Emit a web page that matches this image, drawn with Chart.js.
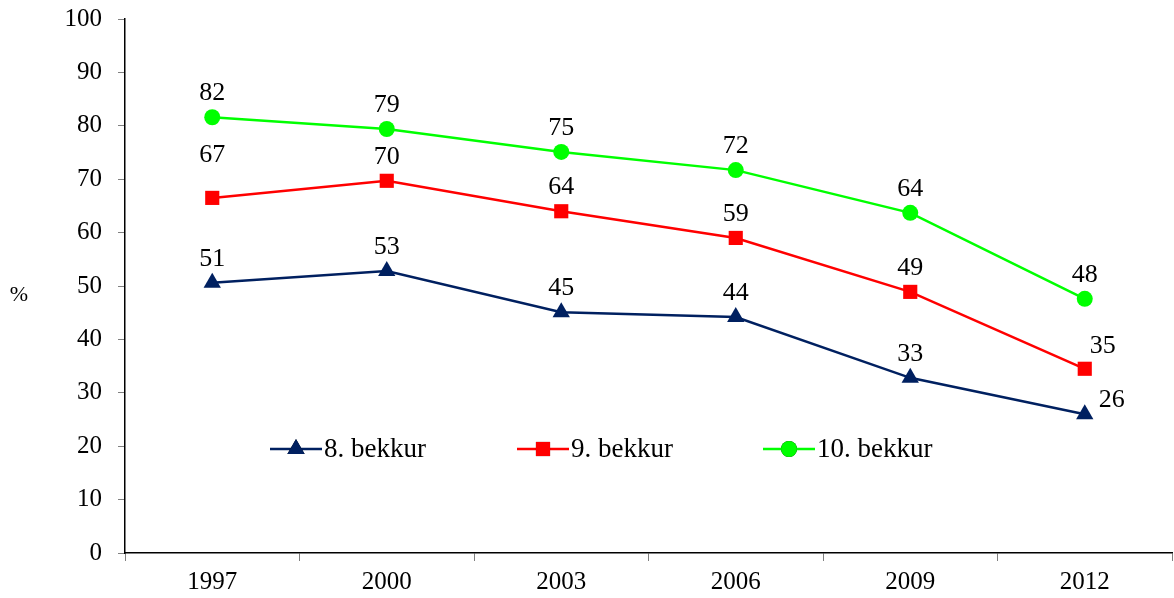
<!DOCTYPE html>
<html>
<head>
<meta charset="utf-8">
<script src="https://cdn.jsdelivr.net/npm/chart.js@4/dist/chart.umd.min.js"></script>
<style>
  html, body { margin: 0; padding: 0; background: #fff; }
  #wrap { width: 1174px; height: 598px; }
</style>
</head>
<body>
<div id="wrap"><canvas id="chart" width="1174" height="598"></canvas></div>
<script>
// values
var years = ['1997', '2000', '2003', '2006', '2009', '2012'];
var grade8 = [50.6, 52.8, 45.1, 44.2, 32.8, 26.0];
var grade9 = [66.5, 69.7, 64.0, 59.0, 48.9, 34.5];
var grade10 = [81.6, 79.4, 75.1, 71.7, 63.7, 47.6];
var labels8 = ['51', '53', '45', '44', '33', '26'];
var labels9 = ['67', '70', '64', '59', '49', '35'];
var labels10 = ['82', '79', '75', '72', '64', '48'];

var FONT = '"Liberation Serif", "Times New Roman", serif';

// small nudges for a few value labels (dx, dy from the point)
var labelNudge = {
  '1-0': [0, -43],
  '1-5': [18, -23],
  '0-5': [27, -14]
};

var labelsPlugin = {
  id: 'pointLabels',
  afterDatasetsDraw: function(chart) {
    var ctx = chart.ctx;
    ctx.save();
    ctx.font = '26px ' + FONT;
    ctx.fillStyle = '#000';
    ctx.textAlign = 'center';
    ctx.textBaseline = 'middle';
    chart.data.datasets.forEach(function(ds, di) {
      var meta = chart.getDatasetMeta(di);
      meta.data.forEach(function(pt, i) {
        var n = labelNudge[di + '-' + i] || [0, -24];
        ctx.fillText(ds.valueLabels[i], pt.x + n[0], pt.y + n[1]);
      });
    });
    ctx.restore();
  }
};

var legendPlugin = {
  id: 'innerLegend',
  afterDraw: function(chart) {
    var ctx = chart.ctx;
    var starts = [270, 517, 763];
    var y = 449;
    ctx.save();
    chart.data.datasets.forEach(function(ds, di) {
      var x0 = starts[di];
      ctx.strokeStyle = ds.borderColor;
      ctx.lineWidth = 2.5;
      ctx.beginPath();
      ctx.moveTo(x0, y);
      ctx.lineTo(x0 + 52, y);
      ctx.stroke();
      Chart.helpers.drawPoint(ctx, {
        pointStyle: ds.pointStyle,
        radius: ds.pointRadius,
        borderWidth: 0
      }, x0 + 26, y);
      ctx.fillStyle = ds.backgroundColor;
      ctx.fill();
      ctx.fillStyle = '#000';
      ctx.font = '27px ' + FONT;
      ctx.textAlign = 'left';
      ctx.textBaseline = 'middle';
      ctx.fillText(ds.label, x0 + 54, y + 1);
    });
    // axis unit
    ctx.font = '22px ' + FONT;
    ctx.textAlign = 'center';
    ctx.fillText('%', 19, 295);
    ctx.restore();
  }
};

function series(label, data, valueLabels, color, style, radius) {
  return {
    label: label,
    data: data,
    valueLabels: valueLabels,
    borderColor: color,
    backgroundColor: color,
    pointBackgroundColor: color,
    pointBorderColor: color,
    pointBorderWidth: 0,
    pointStyle: style,
    pointRadius: radius,
    pointHoverRadius: radius,
    borderWidth: 2.5,
    tension: 0,
    fill: false
  };
}

new Chart(document.getElementById('chart'), {
  type: 'line',
  data: {
    labels: years,
    datasets: [
      series('8. bekkur', grade8, labels8, '#002060', 'triangle', 10),
      series('9. bekkur', grade9, labels9, '#ff0000', 'rect', 10),
      series('10. bekkur', grade10, labels10, '#00ff00', 'circle', 8)
    ]
  },
  options: {
    responsive: false,
    animation: false,
    layout: { autoPadding: false, padding: { top: 19, right: 2, left: 0, bottom: 0 } },
    plugins: {
      legend: { display: false },
      tooltip: { enabled: false }
    },
    scales: {
      x: {
        offset: true,
        grid: { offset: true, drawOnChartArea: false, tickLength: 8, color: '#808080' },
        border: { color: '#000', width: 1.5 },
        ticks: { color: '#000', padding: 6, font: { family: FONT, size: 25 } },
        afterFit: function(scale) { scale.height = 45; scale.paddingLeft = 0; scale.paddingRight = 0; }
      },
      y: {
        min: 0,
        max: 100,
        ticks: { stepSize: 10, color: '#000', padding: 16, font: { family: FONT, size: 25 } },
        grid: { drawOnChartArea: false, tickLength: 7, color: '#808080' },
        border: { color: '#000', width: 1.5 },
        afterFit: function(scale) { scale.width = 125; scale.paddingTop = 0; scale.paddingBottom = 0; }
      }
    }
  },
  plugins: [labelsPlugin, legendPlugin]
});
</script>
</body>
</html>
